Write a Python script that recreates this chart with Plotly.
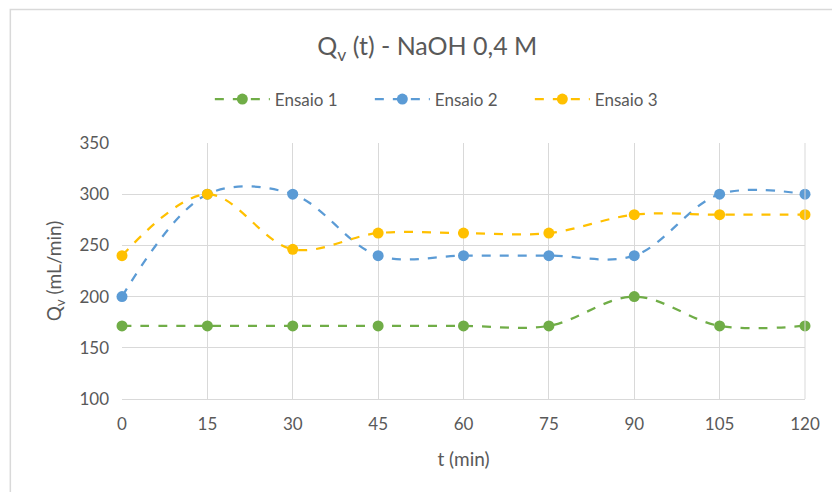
import plotly.graph_objects as go

# Time points (min) and measured flow rates (mL/min)
t_min = [0, 15, 30, 45, 60, 75, 90, 105, 120]
ensaio_1 = [171.4, 171.4, 171.4, 171.4, 171.4, 171.4, 200, 171.4, 171.4]
ensaio_2 = [200, 300, 300, 240, 240, 240, 240, 300, 300]
ensaio_3 = [240, 300, 246.2, 262, 262, 262, 280, 280, 280]

series_names = ["Ensaio 1", "Ensaio 2", "Ensaio 3"]
series_values = [ensaio_1, ensaio_2, ensaio_3]
series_colors = ["#70AD47", "#5B9BD5", "#FFC000"]

x_ticks = [0, 15, 30, 45, 60, 75, 90, 105, 120]
y_ticks = [100, 150, 200, 250, 300, 350]

FONT = "Lato, Calibri, Carlito, sans-serif"
TEXT = "#595959"
GRID = "#d9d9d9"

fig = go.Figure()
for name, vals, col in zip(series_names, series_values, series_colors):
    fig.add_trace(go.Scatter(
        x=t_min, y=vals, name=name, mode="lines+markers",
        line=dict(color=col, width=2.25, dash="dash", shape="spline", smoothing=1.0),
        marker=dict(color=col, size=11, symbol="circle"),
        cliponaxis=False,
    ))

fig.update_layout(
    width=832, height=492,
    margin=dict(l=122, r=25, t=143, b=93),
    paper_bgcolor="white", plot_bgcolor="white",
    font=dict(family=FONT, color=TEXT, size=17),
    title=dict(text="Q<sub>v</sub> (t) - NaOH 0,4 M", x=0.447, xref="paper",
               xanchor="center", y=0.905, yanchor="middle",
               font=dict(size=25, color=TEXT, family=FONT)),
    showlegend=True,
    legend=dict(orientation="h", x=0.48, xanchor="center", y=1.17, yanchor="middle",
                font=dict(size=17, color=TEXT), itemwidth=55,
                entrywidth=90, entrywidthmode="pixels",
                bgcolor="rgba(0,0,0,0)"),
    xaxis=dict(range=[0, 120], tickvals=x_ticks, ticktext=[str(v) for v in x_ticks],
               showgrid=True, gridcolor=GRID, gridwidth=1, zeroline=False,
               showline=True, linecolor=GRID, linewidth=1, ticks="",
               tickfont=dict(size=17, color=TEXT), ticklabelstandoff=10,
               title=dict(text="t (min)", font=dict(size=19, color=TEXT), standoff=19)),
    yaxis=dict(range=[100, 350], tickvals=y_ticks, ticktext=[str(v) for v in y_ticks],
               showgrid=True, gridcolor=GRID, gridwidth=1, zeroline=False,
               showline=False, ticks="",
               tickfont=dict(size=17, color=TEXT), ticklabelstandoff=12,
               title=dict(text="Q<sub>v</sub> (mL/min)", font=dict(size=19, color=TEXT), standoff=12)),
    shapes=[
        # right edge of the plot frame
        dict(type="line", xref="paper", yref="paper", x0=1, x1=1, y0=0, y1=1,
             line=dict(color=GRID, width=1)),
        # chart area border
        dict(type="rect", xref="paper", yref="paper", x0=-0.1635, x1=1.2, y0=-0.6, y1=1.5215,
             line=dict(color="#d9d9d9", width=1.5), layer="below"),
    ],
)

fig.write_html("out.html")
